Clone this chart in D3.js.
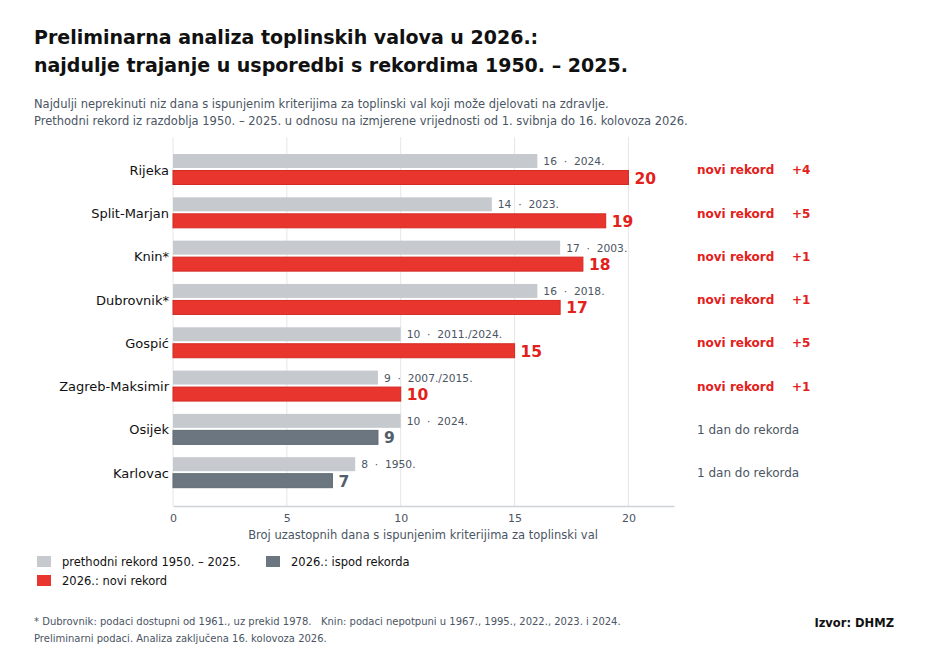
<!DOCTYPE html>
<html>
<head>
<meta charset="utf-8">
<script src="https://cdn.jsdelivr.net/npm/d3@7"></script>
<style>
  body { margin: 0; background: #fff; font-family: "DejaVu Sans", sans-serif; }
  svg text { font-family: "DejaVu Sans", sans-serif; }
</style>
</head>
<body>
<div id="chart"></div>
<script>
// data
var stations = ["Rijeka", "Split-Marjan", "Knin*", "Dubrovnik*", "Gospić", "Zagreb-Maksimir", "Osijek", "Karlovac"];
var record = [16, 14, 17, 16, 10, 9, 10, 8];
var recordYear = ["2024.", "2023.", "2003.", "2018.", "2011./2024.", "2007./2015.", "2024.", "1950."];
var days2026 = [20, 19, 18, 17, 15, 10, 9, 7];
var xTicks = [0, 5, 10, 15, 20];

var W = 936, H = 653;
var red = "#e8352e", grey = "#c6cacf", dark = "#6b7680", textGrey = "#4b5563";

var svg = d3.select("#chart").append("svg").attr("width", W).attr("height", H);

// titles
svg.append("text").attr("x", 34).attr("y", 44).attr("font-size", 19).attr("font-weight", "bold").attr("fill", "#111")
   .text("Preliminarna analiza toplinskih valova u 2026.:");
svg.append("text").attr("x", 34).attr("y", 72).attr("font-size", 19).attr("font-weight", "bold").attr("fill", "#111")
   .text("najdulje trajanje u usporedbi s rekordima 1950. – 2025.");
svg.append("text").attr("x", 34).attr("y", 108).attr("font-size", 11.5).attr("fill", textGrey)
   .text("Najdulji neprekinuti niz dana s ispunjenim kriterijima za toplinski val koji može djelovati na zdravlje.");
svg.append("text").attr("x", 34).attr("y", 125).attr("font-size", 11.5).attr("fill", textGrey)
   .text("Prethodni rekord iz razdoblja 1950. – 2025. u odnosu na izmjerene vrijednosti od 1. svibnja do 16. kolovoza 2026.");

var plotL = 173, plotR = 674, plotT = 137, plotB = 506;
var x = d3.scaleLinear().domain([0, 22]).range([plotL, plotR]);
// row step ~43.3 px
var y = d3.scaleBand().domain(stations).range([148, 494.5]).paddingInner(0);

// gridlines
svg.append("g").selectAll("line").data(xTicks).join("line")
   .attr("x1", function(d){ return x(d); }).attr("x2", function(d){ return x(d); })
   .attr("y1", plotT).attr("y2", plotB)
   .attr("stroke", "#e6e6e6").attr("stroke-width", 1);

// x axis
var xAxis = svg.append("g").attr("transform", "translate(0," + plotB + ")")
   .call(d3.axisBottom(x).tickValues(xTicks).tickSize(0).tickPadding(8));
xAxis.select(".domain").attr("stroke", "#cfd3d8").attr("stroke-width", 1.5);
xAxis.selectAll("text").attr("font-size", 11).attr("fill", textGrey);

svg.append("text").attr("x", 423).attr("y", 539).attr("text-anchor", "middle")
   .attr("font-size", 11.5).attr("fill", textGrey)
   .text("Broj uzastopnih dana s ispunjenim kriterijima za toplinski val");

var rows = stations.map(function(s, i){
  return {name: s, rec: record[i], yr: recordYear[i], now: days2026[i], isNew: days2026[i] > record[i]};
});

var barH = 14;
var g = svg.append("g").selectAll("g").data(rows).join("g")
   .attr("transform", function(d){ return "translate(0," + (y(d.name) + 22) + ")"; });

// previous record bar
g.append("rect").attr("x", x(0)).attr("y", -barH - 2).attr("height", barH)
   .attr("width", function(d){ return x(d.rec) - x(0); }).attr("fill", grey);
g.append("text").attr("x", function(d){ return x(d.rec) + 6; }).attr("y", -5)
   .attr("font-size", 10.7).attr("fill", textGrey)
   .attr("xml:space", "preserve").style("white-space", "pre")
   .text(function(d){ return d.rec + "  ·  " + d.yr; });

// 2026 bar
g.append("rect").attr("x", x(0)).attr("y", 0.5).attr("height", barH)
   .attr("width", function(d){ return x(d.now) - x(0); })
   .attr("fill", function(d){ return d.isNew ? red : dark; })
   .attr("stroke", function(d){ return d.isNew ? "#d42a24" : "#5f6a74"; }).attr("stroke-width", 1);
g.append("text").attr("x", function(d){ return x(d.now) + 6; }).attr("y", 13.5)
   .attr("font-size", 15.5).attr("font-weight", "bold")
   .attr("fill", function(d){ return d.isNew ? "#e3211b" : "#535e6b"; })
   .text(function(d){ return d.now; });

// category labels
g.append("text").attr("x", plotL - 4).attr("y", 0).attr("dy", "0.35em").attr("text-anchor", "end")
   .attr("font-size", 13).attr("fill", "#111").text(function(d){ return d.name; });

// right annotations
g.append("text").attr("x", 697).attr("y", 0).attr("dy", "0.35em")
   .attr("font-size", 12).attr("font-weight", function(d){ return d.isNew ? "bold" : "normal"; })
   .attr("fill", function(d){ return d.isNew ? "#e3211b" : textGrey; })
   .text(function(d){ return d.isNew ? "novi rekord" : (d.rec - d.now) + " dan do rekorda"; });
g.filter(function(d){ return d.isNew; }).append("text").attr("x", 792).attr("y", 0).attr("dy", "0.35em")
   .attr("font-size", 12).attr("font-weight", "bold").attr("fill", "#e3211b")
   .text(function(d){ return "+" + (d.now - d.rec); });

// legend
var legend = [
  {label: "prethodni rekord 1950. – 2025.", c: grey, x: 37, y: 556},
  {label: "2026.: ispod rekorda", c: dark, x: 266, y: 556},
  {label: "2026.: novi rekord", c: red, x: 37, y: 575}
];
var lg = svg.append("g").selectAll("g").data(legend).join("g")
   .attr("transform", function(d){ return "translate(" + d.x + "," + d.y + ")"; });
lg.append("rect").attr("width", 14).attr("height", 11).attr("fill", function(d){ return d.c; });
lg.append("text").attr("x", 25).attr("y", 10).attr("font-size", 11.5).attr("fill", "#111")
   .text(function(d){ return d.label; });

// footer
svg.append("text").attr("x", 34).attr("y", 625).attr("font-size", 10).attr("fill", textGrey)
   .attr("xml:space", "preserve").style("white-space", "pre")
   .text("* Dubrovnik: podaci dostupni od 1961., uz prekid 1978.   Knin: podaci nepotpuni u 1967., 1995., 2022., 2023. i 2024.");
svg.append("text").attr("x", 34).attr("y", 642).attr("font-size", 10).attr("fill", textGrey)
   .text("Preliminarni podaci. Analiza zaključena 16. kolovoza 2026.");
svg.append("text").attr("x", 894).attr("y", 627).attr("text-anchor", "end")
   .attr("font-size", 11.5).attr("font-weight", "bold").attr("fill", "#111").text("Izvor: DHMZ");
</script>
</body>
</html>
